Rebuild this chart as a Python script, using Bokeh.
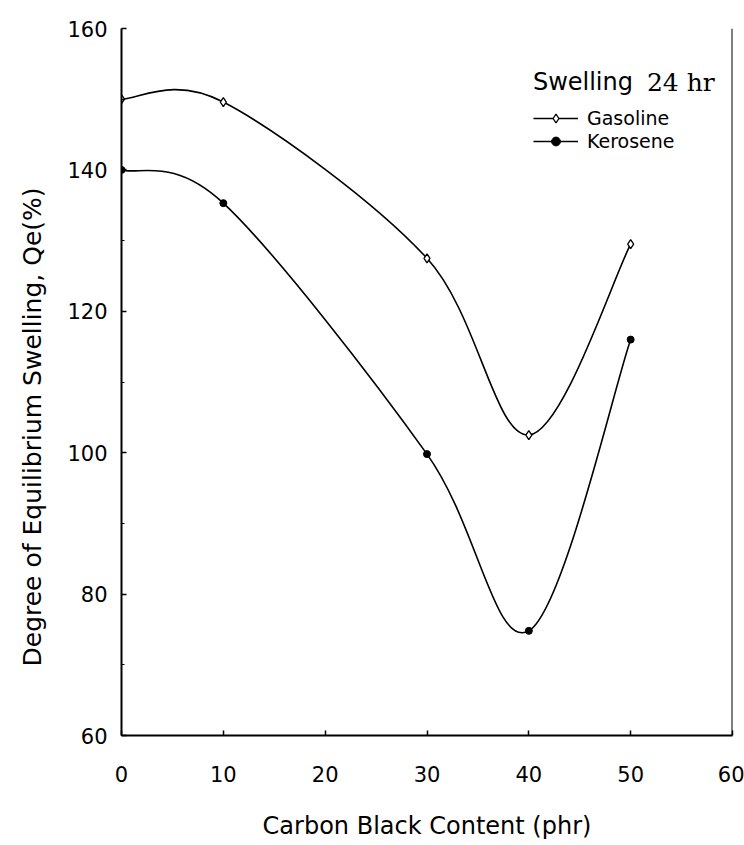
from math import pi
from bokeh.plotting import figure
from bokeh.models import (Range1d, FixedTicker, Legend, LegendItem, Label, Span,
                          ColumnDataSource, Title)
from bokeh.embed import file_html
from bokeh.resources import INLINE

# ---- data ----
x_phr = [0, 10, 30, 40, 50]
gasoline = [150.0, 149.6, 127.5, 102.5, 129.5]
kerosene = [140.0, 135.3, 99.8, 74.8, 116.0]
series_names = ["Gasoline", "Kerosene"]
legend_title_main = "Swelling"
legend_title_time = "24 hr"
x_title = "Carbon Black Content (phr)"
y_title = "Degree of Equilibrium Swelling, Qe(%)"
x_ticks = [0, 10, 20, 30, 40, 50, 60]
y_ticks = [60, 80, 100, 120, 140, 160]
y_minor = [70, 90, 110, 130, 150]


def smooth_segments(xs, ys):
    """Control points of a smoothed (Excel-style) cubic Bezier through the points."""
    n = len(xs)
    d = dict(x0=[], y0=[], x1=[], y1=[], cx0=[], cy0=[], cx1=[], cy1=[])
    for i in range(n - 1):
        xm, ym = (xs[i - 1], ys[i - 1]) if i > 0 else (xs[i], ys[i])
        xp, yp = (xs[i + 2], ys[i + 2]) if i + 2 < n else (xs[i + 1], ys[i + 1])
        d["x0"].append(xs[i]); d["y0"].append(ys[i])
        d["x1"].append(xs[i + 1]); d["y1"].append(ys[i + 1])
        d["cx0"].append(xs[i] + (xs[i + 1] - xm) / 6.0)
        d["cy0"].append(ys[i] + (ys[i + 1] - ym) / 6.0)
        d["cx1"].append(xs[i + 1] - (xp - xs[i]) / 6.0)
        d["cy1"].append(ys[i + 1] - (yp - ys[i]) / 6.0)
    return ColumnDataSource(d)


FONT = "DejaVu Sans"

p = figure(width=744, height=845,
           x_range=Range1d(0, 60), y_range=Range1d(60, 160),
           min_border_left=121, min_border_right=12,
           min_border_top=28, min_border_bottom=110,
           output_backend="svg", toolbar_location=None)

p.xgrid.visible = False
p.ygrid.visible = False
p.outline_line_color = None
p.background_fill_color = "white"
p.border_fill_color = "white"

# axes
for ax in (p.xaxis[0], p.yaxis[0]):
    ax.axis_line_color = "black"
    ax.axis_line_width = 2
    ax.major_tick_line_color = "black"
    ax.major_tick_line_width = 1.5
    ax.major_tick_out = 0
    ax.major_label_text_font = FONT
    ax.major_label_text_font_size = "21px"
    ax.major_label_text_color = "black"

p.xaxis.ticker = FixedTicker(ticks=x_ticks)
p.xaxis.major_tick_in = 5
p.xaxis.minor_tick_line_color = None
p.xaxis.major_label_standoff = 30
p.xaxis.axis_label = x_title
p.xaxis.axis_label_text_font = FONT
p.xaxis.axis_label_text_font_size = "24px"
p.xaxis.axis_label_text_font_style = "normal"
p.xaxis.axis_label_text_color = "black"
p.xaxis.axis_label_standoff = 27

p.yaxis.ticker = FixedTicker(ticks=y_ticks, minor_ticks=y_minor)
p.yaxis.major_tick_in = 5
p.yaxis.minor_tick_in = 3
p.yaxis.minor_tick_out = 0
p.yaxis.minor_tick_line_color = "black"
p.yaxis.major_label_standoff = 14

# right frame line
p.add_layout(Span(location=60, dimension="height", line_color="black", line_width=2))

# y axis title (rotated side title, placed at the outer edge, shifted up from the bottom)
ytitle = Title(text=y_title, align="left", vertical_align="top", offset=69,
               text_font=FONT, text_font_size="25px", text_font_style="normal",
               text_color="black")
ytitle.standoff = 31
p.add_layout(ytitle, "left")

# series
src_g = smooth_segments(x_phr, gasoline)
src_k = smooth_segments(x_phr, kerosene)

rg_line = p.bezier(x0="x0", y0="y0", x1="x1", y1="y1", cx0="cx0", cy0="cy0",
                   cx1="cx1", cy1="cy1", source=src_g, line_color="black", line_width=1.6)
rk_line = p.bezier(x0="x0", y0="y0", x1="x1", y1="y1", cx0="cx0", cy0="cy0",
                   cx1="cx1", cy1="cy1", source=src_k, line_color="black", line_width=1.6)
rg_pts = p.scatter(x_phr, gasoline, marker="diamond", size=9,
                   fill_color="white", line_color="black", line_width=1.3)
rk_pts = p.scatter(x_phr, kerosene, marker="circle", size=7,
                   fill_color="black", line_color="black")

legend = Legend(items=[LegendItem(label=series_names[0], renderers=[rg_line, rg_pts]),
                       LegendItem(label=series_names[1], renderers=[rk_line, rk_pts])],
                location=(412, 583), padding=0, margin=0, spacing=1,
                glyph_width=45, glyph_height=22, label_height=22, label_standoff=9,
                label_text_font=FONT, label_text_font_size="19px", label_text_color="black",
                border_line_color=None, background_fill_alpha=0)
p.add_layout(legend)

# legend title, two fonts as in the reference
p.add_layout(Label(x=40.4, y=152.4, text=legend_title_main, text_align="left",
                   text_baseline="alphabetic", text_font=FONT, text_font_size="24px",
                   text_color="black"))
p.add_layout(Label(x=51.6, y=152.4, text=legend_title_time, text_align="left",
                   text_baseline="alphabetic", text_font="DejaVu Serif", text_font_size="25px",
                   text_color="black"))

open("out.html", "w").write(file_html(p, INLINE))
